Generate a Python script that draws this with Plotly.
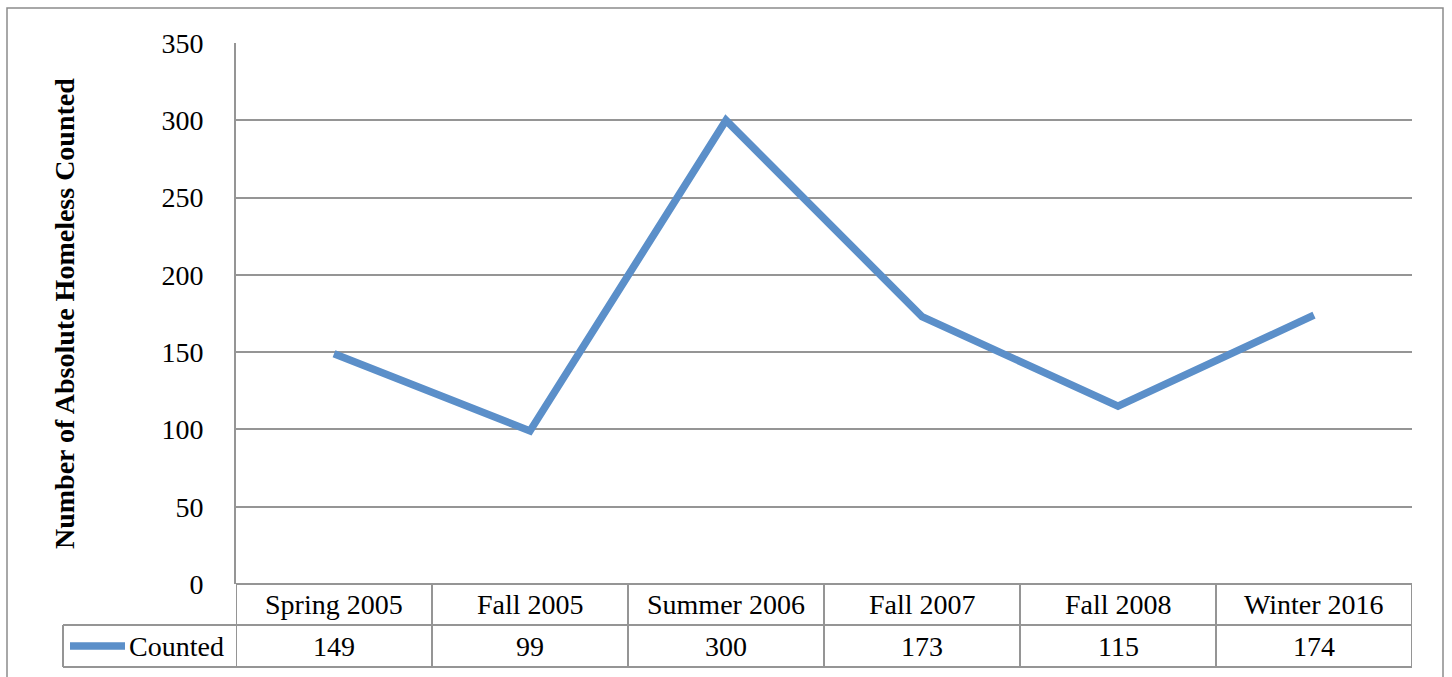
import plotly.graph_objects as go

# data
seasons = ["Spring 2005", "Fall 2005", "Summer 2006", "Fall 2007", "Fall 2008", "Winter 2016"]
counted = [149, 99, 300, 173, 115, 174]
series_name = "Counted"
y_ticks = [0, 50, 100, 150, 200, 250, 300, 350]

W, H = 1452, 677
FONT = "Liberation Serif"
GRID = "#959595"
BLUE = "#5b8fc9"
FS = 28


def px_x(x):
    return x / W


def px_y(y):
    return 1 - y / H


fig = go.Figure()
fig.add_trace(go.Scatter(
    x=list(range(len(seasons))), y=counted, mode="lines",
    line=dict(color=BLUE, width=7.5), name=series_name,
))

# table geometry (pixels)
row_top, row_mid, row_bot = 584, 625, 667
legend_left = 63

shapes = []
# outer chart frame
shapes.append(dict(type="rect", xref="paper", yref="paper",
                   x0=px_x(7), x1=px_x(1443), y0=px_y(8), y1=-0.05,
                   line=dict(color="#8c8c8c", width=1.5)))
# horizontal table lines
shapes.append(dict(type="line", xref="x", yref="paper",
                   x0=-0.5, x1=len(seasons) - 0.5, y0=px_y(row_top), y1=px_y(row_top),
                   line=dict(color=GRID, width=2)))
for yy in (row_mid, row_bot):
    shapes.append(dict(type="line", xref="paper", yref="paper",
                       x0=px_x(legend_left), x1=px_x(1412), y0=px_y(yy), y1=px_y(yy),
                       line=dict(color=GRID, width=2)))
# vertical table lines at category boundaries
for i in range(len(seasons) + 1):
    shapes.append(dict(type="line", xref="x", yref="paper",
                       x0=i - 0.5, x1=i - 0.5, y0=px_y(row_top), y1=px_y(row_bot),
                       line=dict(color=GRID, width=2)))
shapes.append(dict(type="line", xref="paper", yref="paper",
                   x0=px_x(legend_left), x1=px_x(legend_left), y0=px_y(row_mid), y1=px_y(row_bot),
                   line=dict(color=GRID, width=2)))
# legend key in table
shapes.append(dict(type="line", xref="paper", yref="paper",
                   x0=px_x(70), x1=px_x(125), y0=px_y(646), y1=px_y(646),
                   line=dict(color=BLUE, width=7.5)))

txt = dict(showarrow=False, xanchor="center", yanchor="middle",
           font=dict(size=FS, color="black", family=FONT))
annotations = []
for i, (s, v) in enumerate(zip(seasons, counted)):
    annotations.append(dict(x=i, y=px_y((row_top + row_mid) / 2), xref="x", yref="paper",
                            text=s, **txt))
    annotations.append(dict(x=i, y=px_y((row_mid + row_bot) / 2), xref="x", yref="paper",
                            text=str(v), **txt))
annotations.append(dict(x=px_x(127), y=px_y(646), xref="paper", yref="paper",
                        text=series_name, showarrow=False, xanchor="left", yanchor="middle",
                        font=dict(size=FS, color="black", family=FONT)))
annotations.append(dict(x=px_x(64), y=px_y(314), xref="paper", yref="paper", textangle=-90,
                        text="<b>Number of Absolute Homeless Counted</b>", **txt))

fig.update_layout(
    width=W, height=H,
    margin=dict(l=0, r=0, t=0, b=0, autoexpand=False),
    paper_bgcolor="white", plot_bgcolor="white",
    showlegend=False,
    font=dict(family=FONT, size=FS, color="black"),
    xaxis=dict(domain=[px_x(236), px_x(1412)], range=[-0.5, len(seasons) - 0.5],
               showticklabels=False, showgrid=False, zeroline=False, showline=False,
               automargin=False, fixedrange=True),
    yaxis=dict(domain=[px_y(584), px_y(43)], range=[0, 350], tickvals=y_ticks,
               showgrid=True, gridcolor=GRID, gridwidth=1.5, zeroline=False,
               showline=True, linecolor=GRID, linewidth=2, automargin=False,
               ticks="", ticklabelstandoff=25, tickfont=dict(size=FS, family=FONT)),
    shapes=shapes,
    annotations=annotations,
)

fig.write_html("out.html", config={"displayModeBar": False},
               post_script="document.body.style.margin='0';")
